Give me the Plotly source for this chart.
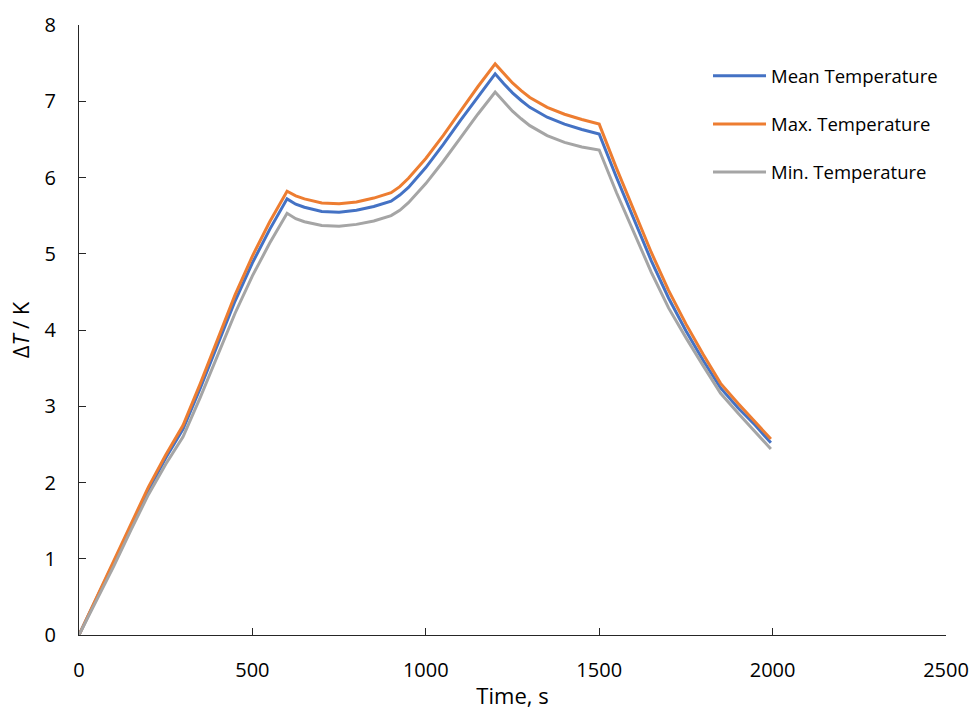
import plotly.graph_objects as go

time_s = [0, 50, 100, 150, 200, 250, 300, 350, 400, 450, 500, 550, 600, 625, 650, 700, 750, 800, 850, 900,
          925, 950, 1000, 1050, 1100, 1150, 1200, 1225, 1250, 1275, 1300, 1350, 1400, 1450, 1500,
          1550, 1600, 1650, 1700, 1750, 1800, 1850, 1900, 1950, 1995]

mean_temp = [0, 0.47, 0.94, 1.43, 1.90, 2.32, 2.70, 3.24, 3.80, 4.38, 4.88, 5.32, 5.72, 5.65, 5.61, 5.555, 5.545, 5.57, 5.62, 5.69,
             5.77, 5.87, 6.13, 6.43, 6.75, 7.06, 7.36, 7.23, 7.11, 7.01, 6.92, 6.79, 6.70, 6.63, 6.57,
             6.00, 5.46, 4.91, 4.42, 3.99, 3.60, 3.24, 2.98, 2.75, 2.52]

max_temp = [0, 0.48, 0.96, 1.46, 1.94, 2.36, 2.75, 3.30, 3.87, 4.46, 4.97, 5.42, 5.82, 5.76, 5.72, 5.665, 5.655, 5.68, 5.73, 5.80,
            5.88, 5.99, 6.25, 6.55, 6.87, 7.19, 7.49, 7.36, 7.24, 7.14, 7.05, 6.92, 6.83, 6.76, 6.70,
            6.12, 5.58, 5.02, 4.52, 4.08, 3.68, 3.30, 3.04, 2.80, 2.57]

min_temp = [0, 0.45, 0.90, 1.38, 1.84, 2.24, 2.60, 3.12, 3.67, 4.22, 4.71, 5.14, 5.53, 5.46, 5.42, 5.37, 5.36, 5.385, 5.43, 5.50,
            5.57, 5.67, 5.92, 6.21, 6.52, 6.83, 7.12, 6.99, 6.87, 6.77, 6.68, 6.55, 6.46, 6.40, 6.36,
            5.80, 5.28, 4.76, 4.29, 3.90, 3.53, 3.17, 2.91, 2.67, 2.44]

series_names = ["Mean Temperature", "Max. Temperature", "Min. Temperature"]
series_colors = ["#4472C4", "#ED7D31", "#A5A5A5"]
series_values = [mean_temp, max_temp, min_temp]

x_ticks = [0, 500, 1000, 1500, 2000, 2500]
y_ticks = [0, 1, 2, 3, 4, 5, 6, 7, 8]

FONT = "Open Sans"

fig = go.Figure()
for name, color, vals in zip(series_names, series_colors, series_values):
    fig.add_trace(go.Scatter(
        x=time_s, y=vals, mode="lines", name=name, legendgroup=name,
        line=dict(color=color, width=3),
    ))

axis_common = dict(
    showline=True, linecolor="#262626", linewidth=1,
    ticks="inside", ticklen=7, tickcolor="#262626", tickwidth=1,
    showgrid=False, zeroline=False, automargin=False,
    tickfont=dict(family=FONT, size=20, color="#000000"),
)

fig.update_layout(
    width=973, height=711,
    margin=dict(l=79, r=27, t=25, b=76),
    paper_bgcolor="white", plot_bgcolor="white",
    font=dict(family=FONT, color="#000000"),
    xaxis=dict(range=[0, 2500], tickvals=x_ticks, ticklabelstandoff=17,
               title=dict(text="Time, s", font=dict(family=FONT, size=22), standoff=6),
               **axis_common),
    yaxis=dict(range=[0, 8], tickvals=y_ticks, ticklabelstandoff=18,
               title=dict(text="Δ<i>T</i> / K", font=dict(family=FONT, size=22), standoff=8),
               **axis_common),
    legend=dict(
        x=0.7255, y=0.947, xanchor="left", yanchor="top",
        font=dict(family=FONT, size=18.5, color="#000000"),
        itemwidth=53, tracegroupgap=21,
        bgcolor="rgba(0,0,0,0)",
    ),
)

fig.write_html("out.html")
